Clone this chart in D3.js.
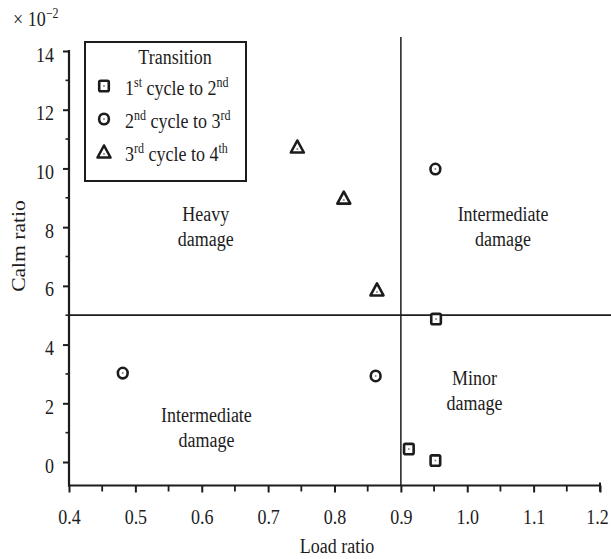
<!DOCTYPE html>
<html>
<head>
<meta charset="utf-8">
<script src="https://cdn.jsdelivr.net/npm/d3@7"></script>
<style>
  body { margin: 0; background: #fff; }
  svg { display: block; font-family: "Liberation Serif", "Times New Roman", serif; }
  svg text { font-family: "Liberation Serif", "Times New Roman", serif; }
</style>
</head>
<body>
<svg id="chart" width="611" height="559"></svg>
<script>
// Transition points: load ratio vs calm ratio (×10^-2)
const squareLoad = [0.953, 0.912, 0.952];
const squareCalm = [4.87, 0.44, 0.05];
const circleLoad = [0.481, 0.862, 0.952];
const circleCalm = [3.03, 2.93, 9.98];
const triangleLoad = [0.744, 0.814, 0.864];
const triangleCalm = [10.73, 8.99, 5.86];

const xTicks = [0.4, 0.5, 0.6, 0.7, 0.8, 0.9, 1.0, 1.1, 1.2];
const yTicks = [0, 2, 4, 6, 8, 10, 12, 14];
const loadThreshold = 0.9;
const calmThreshold = 5;

const svg = d3.select("#chart");
const x = d3.scaleLinear().domain([0.4, 1.2]).range([69, 600]);
const y = d3.scaleLinear().domain([-0.8, 14]).range([485.5, 51]);

const ink = "#1c1c1c";
const FS = 18;          // base type size
const SY = 1.2;         // glyphs are drawn a little taller than wide

// Place a text element at (tx, ty) with vertical stretch
function label(parent, tx, ty, str, size, anchor) {
  return parent.append("text")
    .attr("transform", `translate(${tx},${ty}) scale(1,${SY})`)
    .attr("text-anchor", anchor || "middle")
    .attr("font-size", size || FS)
    .attr("fill", ink)
    .text(str);
}

// Left axis: major ticks every 2, minor every 1, pointing outward
const yAxis = d3.axisLeft(y).tickValues(yTicks).tickFormat(d3.format("d")).tickSize(6);
const gy = svg.append("g").attr("transform", `translate(${x(0.4)},0)`).call(yAxis);
gy.select(".domain").remove();
gy.selectAll(".tick line").attr("stroke", ink).attr("stroke-width", 2);
gy.selectAll(".tick text")
  .attr("x", null).attr("dy", null).attr("y", null)
  .attr("transform", `translate(-15,10) scale(1,${SY})`)
  .attr("text-anchor", "end")
  .attr("font-size", FS).attr("fill", ink)
  .attr("font-family", "Liberation Serif, serif");
const yMinor = [1, 3, 5, 7, 9, 11, 13];
svg.append("g").selectAll("line").data(yMinor).enter()
  .append("line")
  .attr("x1", x(0.4)).attr("x2", x(0.4) - 3.5).attr("y1", d => y(d)).attr("y2", d => y(d))
  .attr("stroke", ink).attr("stroke-width", 1.6);
svg.append("line").attr("x1", x(0.4)).attr("x2", x(0.4))
  .attr("y1", y(14) - 1).attr("y2", y(-0.8) + 1).attr("stroke", ink).attr("stroke-width", 2.2);

// Bottom axis: ticks point down, minor ticks every 0.05
const xAxis = d3.axisBottom(x).tickValues(xTicks).tickFormat(d3.format(".1f")).tickSize(7);
const gx = svg.append("g").attr("transform", `translate(0,${y(-0.8)})`).call(xAxis);
gx.select(".domain").remove();
gx.selectAll(".tick line").attr("stroke", ink).attr("stroke-width", 2);
gx.selectAll(".tick text")
  .attr("y", null).attr("dy", null)
  .attr("transform", (d, i) => `translate(${i === xTicks.length - 1 ? -3 : 0},38) scale(1,${SY})`)
  .attr("font-size", FS).attr("fill", ink)
  .attr("font-family", "Liberation Serif, serif");
const xMinor = [0.45, 0.55, 0.65, 0.75, 0.85, 0.95, 1.05, 1.15];
svg.append("g").selectAll("line").data(xMinor).enter().append("line")
  .attr("x1", d => x(d)).attr("x2", d => x(d))
  .attr("y1", y(-0.8)).attr("y2", y(-0.8) + 6)
  .attr("stroke", ink).attr("stroke-width", 1.8);
svg.append("line").attr("x1", x(0.4) - 1).attr("x2", x(1.2))
  .attr("y1", y(-0.8)).attr("y2", y(-0.8)).attr("stroke", ink).attr("stroke-width", 2.2);
svg.append("line").attr("x1", x(1.2)).attr("x2", x(1.2))
  .attr("y1", y(-0.8) - 3).attr("y2", y(-0.8) + 6).attr("stroke", ink).attr("stroke-width", 2);

// Damage-region divider lines
svg.append("line").attr("x1", x(loadThreshold)).attr("x2", x(loadThreshold))
  .attr("y1", 37).attr("y2", y(-0.8)).attr("stroke", ink).attr("stroke-width", 1.5);
svg.append("line").attr("x1", x(0.4)).attr("x2", 611)
  .attr("y1", y(calmThreshold)).attr("y2", y(calmThreshold)).attr("stroke", ink).attr("stroke-width", 1.8);

// Region labels (load ratio / calm ratio anchor, two lines each)
const regions = [
  { lines: ["Heavy", "damage"], lx: 0.606, ly: 8.2 },
  { lines: ["Intermediate", "damage"], lx: 1.054, ly: 8.2 },
  { lines: ["Minor", "damage"], lx: 1.011, ly: 2.61 },
  { lines: ["Intermediate", "damage"], lx: 0.607, ly: 1.36 }
];
regions.forEach(r => {
  r.lines.forEach((s, i) => label(svg, x(r.lx), y(r.ly) + i * 25, s, FS));
});

// Marker shapes
function drawSquare(g, cx, cy) {
  g.append("rect").attr("x", cx - 4.8).attr("y", cy - 5.2).attr("width", 9.6).attr("height", 10.4)
    .attr("rx", 1.5).attr("fill", "#fff").attr("stroke", ink).attr("stroke-width", 2.6);
  g.append("circle").attr("cx", cx).attr("cy", cy).attr("r", 1).attr("fill", "#888");
}
function drawCircle(g, cx, cy) {
  g.append("ellipse").attr("cx", cx).attr("cy", cy).attr("rx", 4.9).attr("ry", 5.3)
    .attr("fill", "#fff").attr("stroke", ink).attr("stroke-width", 2.6);
  g.append("circle").attr("cx", cx).attr("cy", cy).attr("r", 1).attr("fill", "#888");
}
function drawTriangle(g, cx, cy) {
  g.append("path").attr("d", `M${cx},${cy - 6.5}L${cx + 6.5},${cy + 5.5}L${cx - 6.5},${cy + 5.5}Z`)
    .attr("fill", "#fff").attr("stroke", ink).attr("stroke-width", 2.6).attr("stroke-linejoin", "round");
  g.append("circle").attr("cx", cx).attr("cy", cy + 2).attr("r", 1).attr("fill", "#888");
}

const pts = svg.append("g");
squareLoad.forEach((d, i) => drawSquare(pts, x(d), y(squareCalm[i])));
circleLoad.forEach((d, i) => drawCircle(pts, x(d), y(circleCalm[i])));
triangleLoad.forEach((d, i) => drawTriangle(pts, x(d), y(triangleCalm[i])));

// Legend
const leg = svg.append("g");
leg.append("rect").attr("x", 85).attr("y", 42).attr("width", 161).attr("height", 139)
  .attr("fill", "#fff").attr("stroke", ink).attr("stroke-width", 2);
label(leg, 175, 64, "Transition", FS);
const legendItems = [
  { draw: drawSquare, parts: [["1", ""], ["st", "sup"], [" cycle to 2", ""], ["nd", "sup"]] },
  { draw: drawCircle, parts: [["2", ""], ["nd", "sup"], [" cycle to 3", ""], ["rd", "sup"]] },
  { draw: drawTriangle, parts: [["3", ""], ["rd", "sup"], [" cycle to 4", ""], ["th", "sup"]] }
];
legendItems.forEach((it, i) => {
  const cy = 86 + i * 33;
  it.draw(leg, 104, cy);
  const t = label(leg, 125, cy + 9, "", FS, "start");
  it.parts.forEach(([s, kind], j) => {
    const ts = t.append("tspan").text(s);
    if (kind === "sup") ts.attr("font-size", 12).attr("dy", -7);
    else if (j > 0) ts.attr("dy", 7);
  });
});

// Axis titles and multiplier
label(svg, 337, 553, "Load ratio", FS);
svg.append("text")
  .attr("transform", `translate(25,246) rotate(-90) scale(${SY},1)`)
  .attr("text-anchor", "middle").attr("font-size", FS).attr("fill", ink).text("Calm ratio");
const mult = label(svg, 13, 26, "", 18, "start");
mult.append("tspan").text("× 10");
mult.append("tspan").attr("font-size", 12).attr("dy", -7).text("−2");
</script>
</body>
</html>
